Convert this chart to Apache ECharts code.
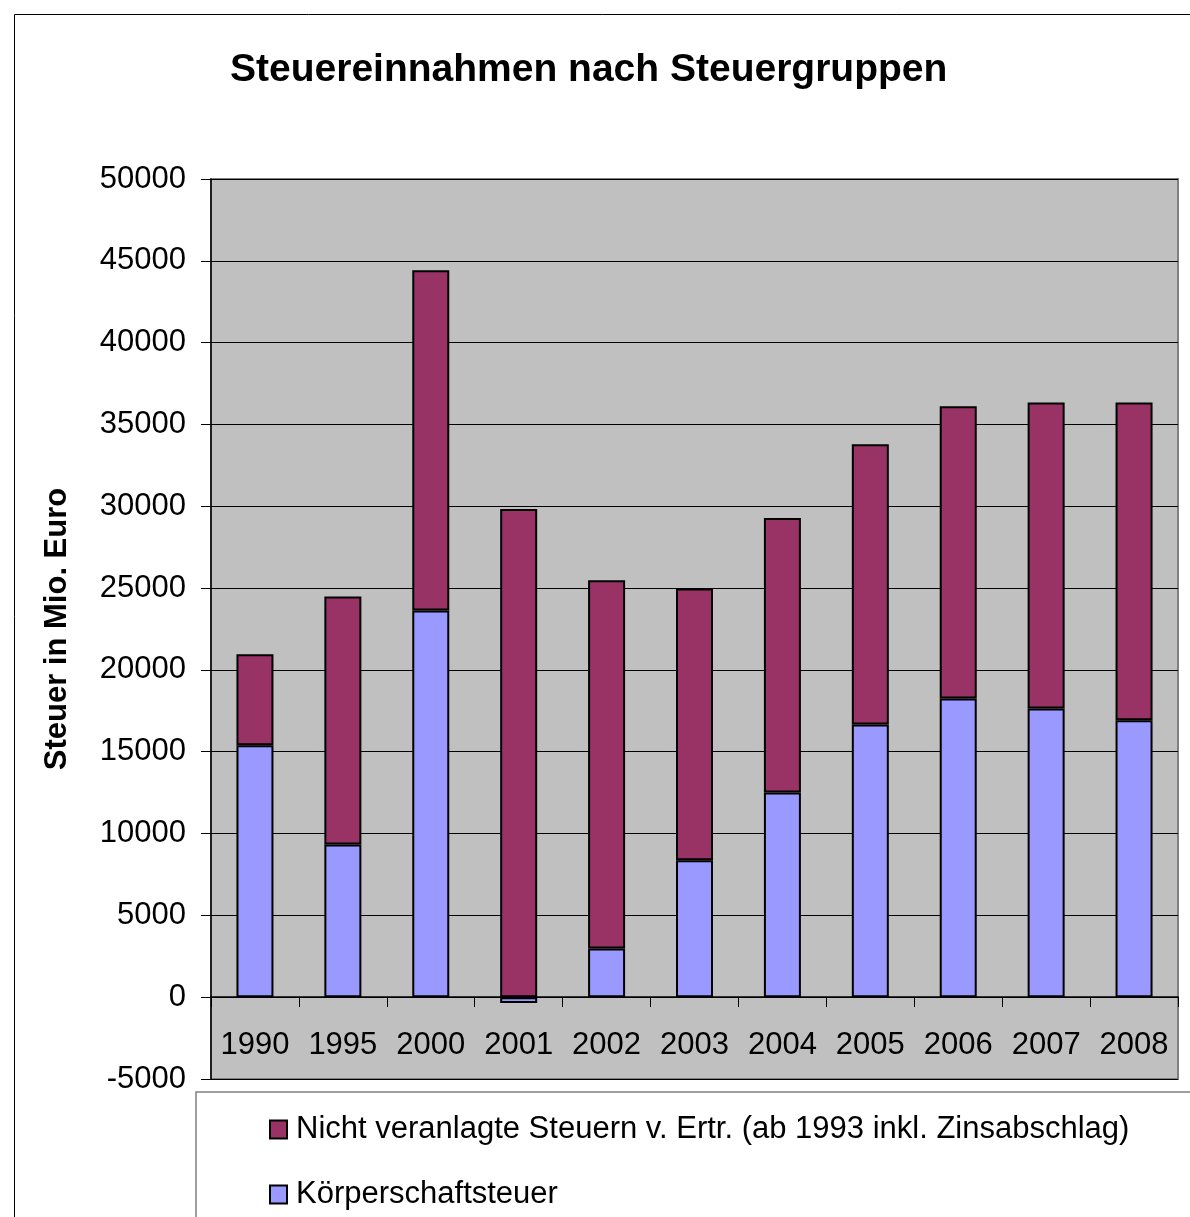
<!DOCTYPE html>
<html>
<head>
<meta charset="utf-8">
<script src="https://cdn.jsdelivr.net/npm/echarts@6/dist/echarts.min.js"></script>
<style>html,body{margin:0;padding:0;background:#fff;}#c{width:1190px;height:1217px;}</style>
</head>
<body>
<div id="c"></div>
<script>
const categories = ['1990','1995','2000','2001','2002','2003','2004','2005','2006','2007','2008'];
const koerperschaftsteuer = [15400, 9330, 23630, -350, 2980, 8370, 12510, 16660, 18250, 17640, 16930];
const nichtVeranlagte = [5560, 15160, 20800, 29840, 22500, 16600, 16780, 17130, 17870, 18700, 19410];
const yTicks = { min: -5000, max: 50000, interval: 5000 };
const seriesNames = ['Körperschaftsteuer', 'Nicht veranlagte Steuern v. Ertr. (ab 1993 inkl. Zinsabschlag)'];

const FONT = '"Liberation Sans", Arial, sans-serif';
const chart = echarts.init(document.getElementById('c'), null, { renderer: 'canvas' });
chart.setOption({
  backgroundColor: '#ffffff',
  animation: false,
  textStyle: { fontFamily: FONT },
  title: {
    text: 'Steuereinnahmen nach Steuergruppen',
    left: 225, top: 46,
    textStyle: { fontFamily: FONT, fontWeight: 'bold', fontSize: 39, color: '#000' }
  },
  graphic: [{
    type: 'rect', left: 12, top: 12, z: -10,
    shape: { width: 1300, height: 1300 },
    style: { fill: 'none', stroke: '#000', lineWidth: 1 }
  }],
  legend: {
    orient: 'vertical',
    left: 196, top: 1092,
    padding: [22, 200, 200, 73],
    itemGap: 34,
    itemWidth: 17, itemHeight: 18,
    icon: 'rect',
    borderColor: '#808080', borderWidth: 1.5,
    backgroundColor: '#fff',
    data: [seriesNames[1], seriesNames[0]],
    textStyle: { fontFamily: FONT, fontSize: 31, color: '#000', padding: [0, 0, 0, 4] }
  },
  grid: {
    left: 211, right: 12, top: 179, bottom: 138,
    show: true, backgroundColor: '#C0C0C0', borderColor: '#808080', borderWidth: 2
  },
  xAxis: {
    type: 'category',
    data: categories,
    position: 'bottom',
    offset: -82,
    axisLine: { onZero: false, lineStyle: { color: '#000', width: 1.5 } },
    axisTick: { show: true, alignWithLabel: false, length: 10, lineStyle: { color: '#000', width: 1 } },
    axisLabel: { fontFamily: FONT, fontSize: 31, color: '#000', margin: 33, interval: 0 },
    splitLine: { show: false }
  },
  yAxis: {
    type: 'value',
    min: yTicks.min, max: yTicks.max, interval: yTicks.interval,
    name: 'Steuer in Mio. Euro',
    nameLocation: 'middle',
    nameGap: 138,
    nameTextStyle: { fontFamily: FONT, fontWeight: 'bold', fontSize: 31, color: '#000' },
    axisLine: { show: true, lineStyle: { color: '#000', width: 1.5 } },
    axisTick: { show: true, length: 10, lineStyle: { color: '#000' } },
    axisLabel: { fontFamily: FONT, fontSize: 31, color: '#000', margin: 25, formatter: v => String(v) },
    splitLine: { show: true, lineStyle: { color: '#000', width: 1.2 } }
  },
  series: [
    {
      name: seriesNames[0], type: 'bar', stack: 'total',
      data: koerperschaftsteuer, barWidth: 37,
      itemStyle: { color: '#9999FF', borderColor: '#000', borderWidth: 2 }
    },
    {
      name: seriesNames[1], type: 'bar', stack: 'total',
      data: nichtVeranlagte, barWidth: 37,
      itemStyle: { color: '#993366', borderColor: '#000', borderWidth: 2 }
    }
  ]
});
</script>
</body>
</html>
